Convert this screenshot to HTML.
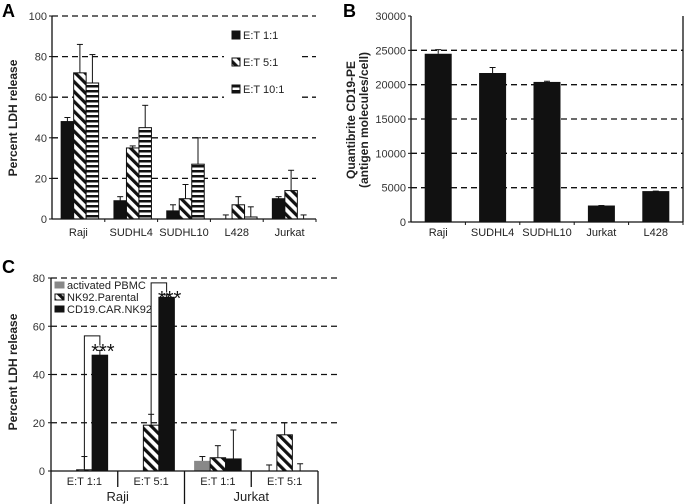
<!DOCTYPE html>
<html><head><meta charset="utf-8">
<style>
html,body{margin:0;padding:0;background:#fff;}
svg{display:block;font-family:"Liberation Sans",Arial,sans-serif;}
</style></head>
<body>
<svg id="fig" width="685" height="504" viewBox="0 0 685 504">
<defs>
<pattern id="diag" patternUnits="userSpaceOnUse" width="7" height="7" patternTransform="rotate(-45)">
<rect width="7" height="7" fill="#fff"/><rect width="3.2" height="7" fill="#111"/></pattern>
<pattern id="horiz" patternUnits="userSpaceOnUse" width="6" height="5">
<rect width="6" height="5" fill="#fff"/><rect y="0" width="6" height="2.5" fill="#111"/></pattern>
</defs>
<g id="gA"></g>
<g id="gB"></g>
<g id="gC"></g>
</svg>
<script>
// Panel A data
const aCats = ["Raji","SUDHL4","SUDHL10","L428","Jurkat"];
const aSeries = ["E:T 1:1","E:T 5:1","E:T 10:1"];
const a11 = [48,9,4,0,10];
const a11Err = [50,11,7,2,11];
const a51 = [72,35,10,7,14];
const a51Err = [86,36,17,11,24];
const a101 = [67,45,27,1,0];
const a101Err = [81,56,40,6,2];
const aTicks = [0,20,40,60,80,100];
// Panel B data
const bCats = ["Raji","SUDHL4","SUDHL10","Jurkat","L428"];
const bVals = [24500,21700,20400,2400,4500];
const bErr = [25100,22500,20500,2400,4500];
const bTicks = [0,5000,10000,15000,20000,25000,30000];
// Panel C data
const cGroups = ["E:T 1:1","E:T 5:1","E:T 1:1","E:T 5:1"];
const cTargets = ["Raji","Jurkat"];
const cSeries = ["activated PBMC","NK92.Parental","CD19.CAR.NK92"];
const cPbmc = [0,0,4,0];
const cPbmcErr = [0,0,6,2.5];
const cNk = [0.5,19,5.5,15];
const cNkErr = [6,23.5,10.5,20];
const cCar = [48,72,5,0];
const cCarErr = [50,73,17,3];
const cTicks = [0,20,40,60,80];

const NS="http://www.w3.org/2000/svg";
function mk(p,tag,at,txt){const e=document.createElementNS(NS,tag);for(const k in at)e.setAttribute(k,at[k]);if(txt!==undefined)e.textContent=txt;p.appendChild(e);return e;}

// ---------- Panel A ----------
(function(){
const g=document.getElementById('gA');
const x0=52,x1=316,y0=219,yt=16,max=100;
const ys=v=>y0-(v/max)*(y0-yt);
const cw=(x1-x0)/aCats.length, bw=12.5, off=(cw-3*bw)/2+1.5;
let t=mk(g,'text',{x:2,y:17,'font-size':18,'font-weight':'bold'},'A');

aTicks.forEach(v=>{
 if(v>0){const l=mk(g,'line',{x1:x0,x2:x1,y1:ys(v),y2:ys(v),stroke:'#111','stroke-width':1.3,'stroke-dasharray':'6,4'});
 }
 const tx=mk(g,'text',{x:x0-5,y:ys(v)+4,'font-size':11,'text-anchor':'end',fill:'#333'},v);
 
 mk(g,'line',{x1:x0-3,x2:x0,y1:ys(v),y2:ys(v),stroke:'#111'});
});
const lb=mk(g,'rect',{x:224,y:24,width:78,height:74,fill:'#fff'});

const fills=['#111','url(#diag)','url(#horiz)'];
const vals=[a11,a51,a101], errs=[a11Err,a51Err,a101Err];
aCats.forEach((c,i)=>{
 for(let s=0;s<3;s++){
  const bx=x0+i*cw+off+s*bw, v=vals[s][i], e=errs[s][i];
  const cx=bx+bw/2;
  const el=mk(g,'line',{x1:cx,x2:cx,y1:ys(e),y2:ys(v),stroke:'#111','stroke-width':1});
  
  mk(g,'line',{x1:cx-3,x2:cx+3,y1:ys(e),y2:ys(e),stroke:'#111'});
  const r=mk(g,'rect',{x:bx,y:ys(v),width:bw,height:y0-ys(v),fill:fills[s],stroke:'#111','stroke-width':1});
  
 }
 const lt=mk(g,'text',{x:x0+i*cw+cw/2,y:236,'font-size':11,'text-anchor':'middle',fill:'#222'},c);
 
 mk(g,'line',{x1:x0+(i+1)*cw,x2:x0+(i+1)*cw,y1:y0,y2:y0+3,stroke:'#111'});
});
mk(g,'line',{x1:x0,x2:x0,y1:yt,y2:y0,stroke:'#111','stroke-width':1.3});
mk(g,'line',{x1:x0,x2:x1,y1:y0,y2:y0,stroke:'#111','stroke-width':1.3});
aSeries.forEach((s,k)=>{
 const yy=35+k*27;
 const p=mk(g,'rect',{x:232,y:yy-4,width:8,height:8,fill:fills[k],stroke:'#111'});
 
 const lt=mk(g,'text',{x:243,y:yy+4,'font-size':11,fill:'#222'},s);
 
});
const yl=mk(g,'text',{transform:'translate(17,118) rotate(-90)','font-size':12,'font-weight':'bold','text-anchor':'middle',fill:'#222'},'Percent LDH release');

})();

// ---------- Panel B ----------
(function(){
const g=document.getElementById('gB');
const x0=411,x1=683,y0=222,yt=16,max=30000;
const ys=v=>y0-(v/max)*(y0-yt);
const cw=(x1-x0)/bCats.length,bw=27;
const t=mk(g,'text',{x:343,y:17,'font-size':18,'font-weight':'bold'},'B');

bTicks.forEach(v=>{
 if(v>0&&v<max){const l=mk(g,'line',{x1:x0,x2:x1,y1:ys(v),y2:ys(v),stroke:'#111','stroke-width':1.3,'stroke-dasharray':'6,4'});
 }
 const tx=mk(g,'text',{x:x0-5,y:ys(v)+4,'font-size':11,'text-anchor':'end',fill:'#333'},v);
 
 mk(g,'line',{x1:x0-3,x2:x0,y1:ys(v),y2:ys(v),stroke:'#111'});
});
bCats.forEach((c,i)=>{
 const bx=x0+i*cw+(cw-bw)/2,cx=bx+bw/2;
 mk(g,'line',{x1:cx,x2:cx,y1:ys(bErr[i]),y2:ys(bVals[i]),stroke:'#111'});
 mk(g,'line',{x1:cx-3,x2:cx+3,y1:ys(bErr[i]),y2:ys(bErr[i]),stroke:'#111'});
 const r=mk(g,'rect',{x:bx,y:ys(bVals[i]),width:bw,height:y0-ys(bVals[i]),fill:'#111'});
 
 const lt=mk(g,'text',{x:cx,y:236,'font-size':11,'text-anchor':'middle',fill:'#222'},c);
 
 mk(g,'line',{x1:x0+(i+1)*cw,x2:x0+(i+1)*cw,y1:y0,y2:y0+3,stroke:'#111'});
});
mk(g,'line',{x1:x0,x2:x0,y1:yt,y2:y0,stroke:'#111','stroke-width':1.3});
mk(g,'line',{x1:x1,x2:x1,y1:yt,y2:y0,stroke:'#111','stroke-width':1.3});
mk(g,'line',{x1:x0,x2:x1,y1:y0,y2:y0,stroke:'#111','stroke-width':1.3});
const y1=mk(g,'text',{transform:'translate(355,120) rotate(-90)','font-size':12,'font-weight':'bold','text-anchor':'middle',fill:'#222'},'Quantibrite CD19-PE');

const y2=mk(g,'text',{transform:'translate(368,120) rotate(-90)','font-size':12,'font-weight':'bold','text-anchor':'middle',fill:'#222'},'(antigen molecules/cell)');

})();

// ---------- Panel C ----------
(function(){
const g=document.getElementById('gC');
const x0=51,x1=318,y0=471,yt=278,max=80;
const ys=v=>y0-(v/max)*(y0-yt);
const cw=(x1-x0)/cGroups.length,bw=15.5,off=(cw-3*bw)/2;
const t=mk(g,'text',{x:2,y:273,'font-size':18,'font-weight':'bold'},'C');

cTicks.forEach(v=>{
 if(v>0){const l=mk(g,'line',{x1:x0,x2:340,y1:ys(v),y2:ys(v),stroke:'#111','stroke-width':1.3,'stroke-dasharray':'6,4'});
 }
 const tx=mk(g,'text',{x:x0-6,y:ys(v)+4,'font-size':11,'text-anchor':'end',fill:'#333'},v);
 
 mk(g,'line',{x1:x0-3,x2:x0,y1:ys(v),y2:ys(v),stroke:'#111'});
});
const lb=mk(g,'rect',{x:53,y:279,width:105,height:37,fill:'#fff'});

const fills=['#888','url(#diag)','#111'],strokes=['#888','#111','#111'];
const vals=[cPbmc,cNk,cCar],errs=[cPbmcErr,cNkErr,cCarErr];
const centers=[];
cGroups.forEach((c,i)=>{
 centers.push([]);
 for(let s=0;s<3;s++){
  const bx=x0+i*cw+off+s*bw,cx=bx+bw/2,v=vals[s][i],e=errs[s][i];
  centers[i].push(cx);
  if(e>v){mk(g,'line',{x1:cx,x2:cx,y1:ys(e),y2:ys(v),stroke:'#111'});
  mk(g,'line',{x1:cx-3,x2:cx+3,y1:ys(e),y2:ys(e),stroke:'#111'});}
  if(v>0){const r=mk(g,'rect',{x:bx,y:ys(v),width:bw,height:y0-ys(v),fill:fills[s],stroke:strokes[s]});
  }
 }
 const lt=mk(g,'text',{x:x0+i*cw+cw/2,y:485,'font-size':11,'text-anchor':'middle',fill:'#222'},c);
 
});
[0,1,2,3,4].forEach(k=>{
 const xx=x0+k*cw,full=(k%2===0);
 mk(g,'line',{x1:xx,x2:xx,y1:y0,y2:full?504:487,stroke:'#111','stroke-width':1.3});
});
cTargets.forEach((c,j)=>{
 const lt=mk(g,'text',{x:x0+(2*j+1)*cw,y:501,'font-size':13,'text-anchor':'middle',fill:'#222'},c);
 
});
mk(g,'line',{x1:x0,x2:x0,y1:yt,y2:y0,stroke:'#111','stroke-width':1.3});
mk(g,'line',{x1:x0,x2:x1,y1:y0,y2:y0,stroke:'#111','stroke-width':1.3});
const br=[[0,56,ys(1),ys(52)],[1,78,ys(20),ys(74)]];
br.forEach(([i,top,yl,yr])=>{
 const a=centers[i][1],b=centers[i][2],yt2=ys(top);
 const p=mk(g,'polyline',{points:`${a},${yl} ${a},${yt2} ${b},${yt2} ${b},${yr}`,fill:'none',stroke:'#111','stroke-width':1});
 
 const st=mk(g,'text',{x:b+3,y:yt2+22,'font-size':20,'text-anchor':'middle',fill:'#111'},'***');
 
});
cSeries.forEach((s,k)=>{
 const yy=286+k*12;
 const p=mk(g,'rect',{x:55,y:yy-4,width:9,height:6,fill:fills[k],stroke:strokes[k]});
 
 const lt=mk(g,'text',{x:67,y:yy+3,'font-size':11,fill:'#222'},s);
 
});
const yl=mk(g,'text',{transform:'translate(17,372) rotate(-90)','font-size':12,'font-weight':'bold','text-anchor':'middle',fill:'#222'},'Percent LDH release');

})();
</script>
</body></html>
